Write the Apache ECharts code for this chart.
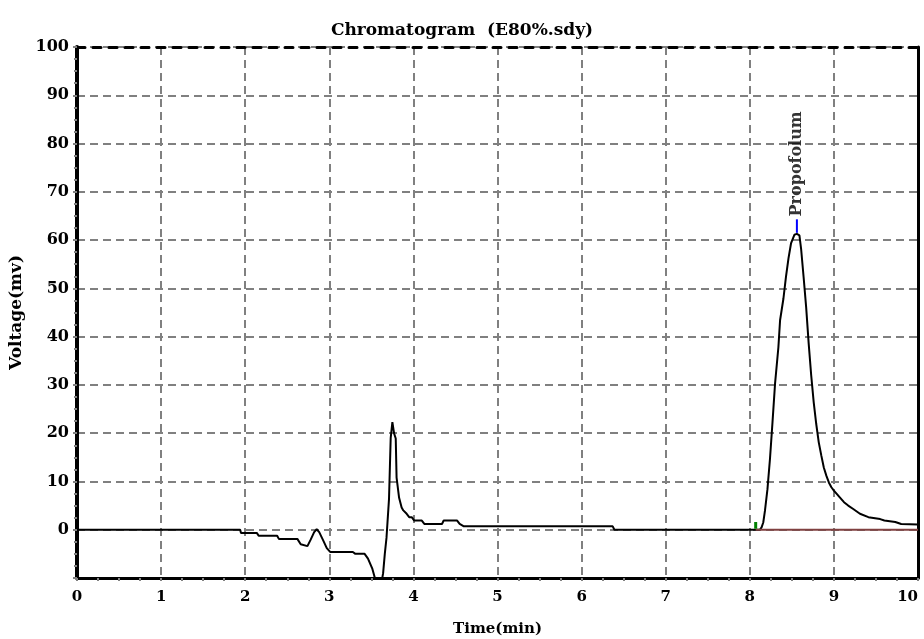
<!DOCTYPE html>
<html>
<head>
<meta charset="utf-8">
<script src="https://cdn.jsdelivr.net/npm/echarts@6/dist/echarts.min.js"></script>
<style>
    html, body { margin: 0; padding: 0; background: #fff; }
    #chart { width: 924px; height: 639px; }
</style>
</head>
<body>
<div id="chart"></div>
<script>
// 色谱图数据
var timeMin = [0, 1.94, 1.95, 2.14, 2.16, 2.38, 2.40, 2.62, 2.66, 2.74, 2.78, 2.82, 2.85, 2.88,
    2.93, 2.97, 3.01, 3.28, 3.31, 3.42, 3.46, 3.51, 3.55, 3.60, 3.64, 3.66, 3.68, 3.71, 3.73,
    3.75, 3.77, 3.79, 3.80, 3.83, 3.86, 3.88, 3.92, 3.95, 3.98, 4.01, 4.10, 4.13, 4.34, 4.36,
    4.52, 4.55, 4.60, 6.37, 6.39, 8.12, 8.14, 8.16, 8.18, 8.21, 8.24, 8.27, 8.30, 8.34, 8.36,
    8.40, 8.43, 8.46, 8.49, 8.53, 8.56, 8.59, 8.61, 8.64, 8.67, 8.70, 8.73, 8.76, 8.79, 8.82,
    8.85, 8.88, 8.91, 8.94, 8.97, 9.00, 9.02, 9.07, 9.12, 9.17, 9.23, 9.31, 9.41, 9.55, 9.60,
    9.73, 9.80, 10.0];
var voltage = [0, 0, -0.7, -0.7, -1.25, -1.25, -1.9, -1.9, -3.0, -3.4, -2.0, -0.5, 0.1, -0.5,
    -2.3, -3.8, -4.6, -4.6, -5.0, -5.0, -6.0, -8.0, -10.5, -13, -9, -5, -1.7, 6.4, 19,
    22.3, 20, 18.9, 10.8, 6.6, 4.6, 4.0, 3.3, 2.6, 2.6, 1.9, 1.9, 1.2, 1.2, 1.9,
    1.9, 1.2, 0.7, 0.7, 0, 0, 0.5, 1.5, 3.9, 8.4, 14.7, 22.3, 30.2, 37.8, 43.4,
    47.9, 52.4, 56.2, 59.3, 61.1, 61.3, 61.0, 58.2, 52.3, 46.1, 38.6, 32, 26.4, 21.9, 18.1,
    15.4, 12.9, 11.2, 9.8, 8.8, 8.1, 7.7, 6.7, 5.7, 5.0, 4.3, 3.3, 2.6, 2.2, 1.9,
    1.6, 1.2, 1.1];

// 峰信息
var peakName = "Propofolum";
var peakTime = 8.56;
var peakTop = [61.5, 64.3];
var peakStart = 8.07;
var peakEnd = 10;
var startMark = [0.2, 1.6];

var yTicks = [0, 10, 20, 30, 40, 50, 60, 70, 80, 90, 100];

var font = "DejaVu Serif";
var gridLine = { color: "#808080", width: 2, type: [8, 5] };

var chart = echarts.init(document.getElementById("chart"));

var curve = [];
for (var i = 0; i < timeMin.length; i++) {
    curve.push([timeMin[i], voltage[i]]);
}

var options = {
    animation: false,
    backgroundColor: "#fff",
    title: {
        text: "Chromatogram  (E80%.sdy)",
        left: "center",
        top: 17,
        textStyle: { fontFamily: font, fontSize: 17, fontWeight: "bold", color: "#000" }
    },
    grid: { left: 77, right: 6, top: 47, bottom: 61, outerBoundsMode: "none" },
    xAxis: [
        {
            type: "value", position: "bottom", min: 0, max: 10, interval: 1,
            name: "Time(min)", nameLocation: "middle", nameGap: 44,
            nameTextStyle: { fontFamily: font, fontSize: 15, fontWeight: "bold", color: "#000" },
            axisLine: { onZero: false, lineStyle: { color: "#000", width: 3 } },
            axisTick: { show: true, length: 3, lineStyle: { color: "#808080", width: 2 } },
            minorTick: { show: true, splitNumber: 4, length: 3, lineStyle: { color: "#808080", width: 2 } },
            axisLabel: { margin: 12, fontFamily: font, fontSize: 15, fontWeight: "bold", color: "#000", alignMaxLabel: "right" },
            splitLine: { show: true, lineStyle: gridLine }
        },
        {
            type: "value", position: "top", min: 0, max: 10, interval: 1,
            axisLine: { onZero: false, lineStyle: { color: "#000", width: 3, type: [8, 8] } },
            axisTick: { show: false },
            axisLabel: { show: false },
            splitLine: { show: false }
        }
    ],
    yAxis: [
        {
            type: "value", position: "left", min: -10, max: 100, interval: 10,
            name: "Voltage(mv)", nameLocation: "middle", nameGap: 44, nameRotate: 90,
            nameTextStyle: { fontFamily: font, fontSize: 17, fontWeight: "bold", color: "#000" },
            axisLine: { show: true, onZero: false, lineStyle: { color: "#000", width: 4 } },
            axisTick: { show: true, length: 4, lineStyle: { color: "#808080", width: 2 } },
            minorTick: { show: true, splitNumber: 4, length: 3, lineStyle: { color: "#808080", width: 2 } },
            axisLabel: {
                margin: 8, fontFamily: font, fontSize: 16, fontWeight: "bold", color: "#000",
                formatter: function (val) {
                    return yTicks.indexOf(val) >= 0 ? String(val) : "";
                }
            },
            splitLine: { show: true, lineStyle: gridLine }
        },
        {
            type: "value", position: "right", min: -10, max: 100, interval: 10,
            axisLine: { show: true, onZero: false, lineStyle: { color: "#000", width: 3 } },
            axisTick: { show: false },
            axisLabel: { show: false },
            splitLine: { show: false }
        }
    ],
    series: [
        {
            name: "signal",
            type: "line",
            data: curve,
            symbol: "none",
            clip: true,
            lineStyle: { color: "#000", width: 2 },
            z: 3
        },
        {
            // 积分基线
            type: "line",
            data: [[peakStart, 0], [peakEnd, 0]],
            symbol: "none",
            lineStyle: { color: "#804040", width: 2 },
            z: 4
        },
        {
            // 起峰标记
            type: "line",
            data: [[peakStart, startMark[0]], [peakStart, startMark[1]]],
            symbol: "none",
            lineStyle: { color: "#008000", width: 3 },
            z: 4
        },
        {
            // 峰顶标记
            type: "line",
            data: [[peakTime, peakTop[0]], [peakTime, peakTop[1]]],
            symbol: "none",
            lineStyle: { color: "#0000ff", width: 2 },
            z: 4
        },
        {
            type: "scatter",
            data: [[peakTime, peakTop[1] + 0.6]],
            symbolSize: 1,
            itemStyle: { color: "rgba(0,0,0,0)" },
            label: {
                show: true,
                position: "inside",
                rotate: 90,
                align: "left",
                verticalAlign: "middle",
                formatter: peakName,
                fontFamily: font,
                fontSize: 16,
                fontWeight: "bold",
                color: "#000"
            },
            z: 5
        }
    ]
};
chart.setOption(options, true);
</script>
</body>
</html>
